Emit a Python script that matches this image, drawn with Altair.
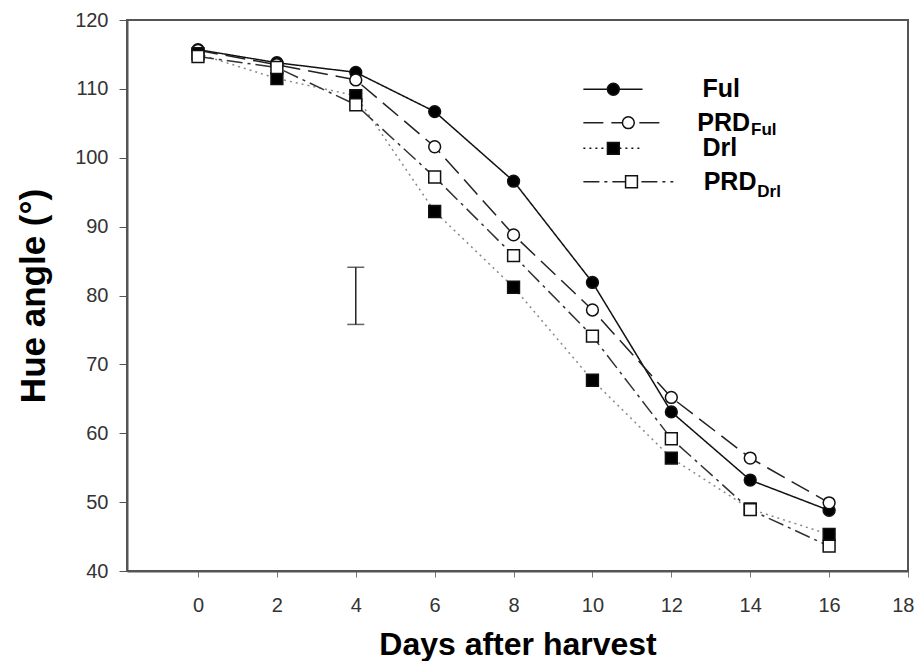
import altair as alt
import pandas as pd

# ---- data ----
days = [0, 2, 4, 6, 8, 10, 12, 14, 16]
ful = [115.7, 113.8, 112.4, 106.7, 96.6, 81.9, 63.1, 53.2, 48.8]
prd_ful = [115.6, 113.5, 111.3, 101.6, 88.8, 77.9, 65.2, 56.4, 49.9]
drl = [115.1, 111.5, 109.0, 92.2, 81.2, 67.7, 56.4, 49.0, 45.3]
prd_drl = [114.7, 113.1, 107.7, 97.2, 85.8, 74.1, 59.2, 48.9, 43.6]

series_names = ["Ful", "PRD_Ful", "Drl", "PRD_Drl"]
series_values = [ful, prd_ful, drl, prd_drl]

# LSD-style error bar
err_x = [4]
err_low = [75.8]
err_high = [84.1]

x_ticks = [0, 2, 4, 6, 8, 10, 12, 14, 16, 18]
y_ticks = [40, 50, 60, 70, 80, 90, 100, 110, 120]

# legend layout (in data units)
leg_y = [109.94, 105.09, 101.37, 96.52]
leg_x0 = [9.77, 9.77, 9.77, 9.77]
leg_x1 = [11.27, 11.83, 11.27, 12.05]
leg_xm = [10.53, 10.91, 10.53, 10.99]
leg_main = ["Ful", "PRD", "Drl", "PRD"]
leg_main_x = [12.79, 12.66, 12.79, 12.82]
leg_sub = ["", "Ful", "", "Drl"]
leg_sub_x = [14.02, 14.02, 14.02, 14.18]
leg_sub_dy = [0, -1.05, 0, -1.45]

rows = []
for name, vals in zip(series_names, series_values):
    for d, v in zip(days, vals):
        rows.append({"series": name, "day": d, "hue": v})
df = pd.DataFrame(rows)

leg_df = pd.DataFrame({
    "series": series_names, "y": leg_y, "x0": leg_x0, "x1": leg_x1, "xm": leg_xm,
    "label": leg_main, "lx": leg_main_x, "sub": leg_sub, "sx": leg_sub_x,
    "sy": [a + b for a, b in zip(leg_y, leg_sub_dy)],
})
err_df = pd.DataFrame({"day": err_x, "lo": err_low, "hi": err_high})

FONT = "Liberation Sans"

xscale = alt.Scale(domain=[-1.8, 18], nice=False, zero=False)
yscale = alt.Scale(domain=[40, 120], nice=False, zero=False)

x_axis = alt.Axis(values=x_ticks, title="Days after harvest", grid=False,
                  tickSize=6, labelPadding=18, labelFontSize=20, labelFont=FONT,
                  labelColor="#333", tickColor="#777", domainColor="#555", domainWidth=2,
                  titleFont=FONT, titleFontSize=32, titleFontWeight="bold", titleColor="#000",
                  titleBaseline="alphabetic", titleY=83, labelFlush=True, labelFlushOffset=6)
y_axis = alt.Axis(values=y_ticks, title="Hue angle (°)", grid=False,
                  tickSize=8, labelPadding=11, labelFontSize=20, labelFont=FONT,
                  labelColor="#333", tickColor="#555", domainColor="#555", domainWidth=2,
                  titleFont=FONT, titleFontSize=35, titleFontWeight="bold", titleColor="#000",
                  titleBaseline="alphabetic", titleAngle=270, titleX=-83, titleY=275.5,
                  titleAlign="center", labelFlush=False)

styles = {
    "Ful": dict(dash=[1, 0], color="#111", lcolor="#111", shape="circle", fill="#000", size=140),
    "PRD_Ful": dict(dash=[20, 8], color="#222", lcolor="#222", shape="circle", fill="#fff", size=140),
    "Drl": dict(dash=[2, 4], color="#888", lcolor="#111", shape="square", fill="#000", size=140),
    "PRD_Drl": dict(dash=[16, 5, 3, 5], color="#333", lcolor="#222", shape="square", fill="#fff", size=140),
}

base = alt.Chart(df)
layers = []
# axes carrier
layers.append(base.mark_point(opacity=0).encode(
    x=alt.X("day:Q", scale=xscale, axis=x_axis),
    y=alt.Y("hue:Q", scale=yscale, axis=y_axis)))

for name in series_names:
    s = styles[name]
    layers.append(base.transform_filter(alt.datum.series == name).mark_line(
        strokeDash=s["dash"], color=s["color"], strokeWidth=1.5).encode(
        x="day:Q", y="hue:Q"))
for name in series_names:
    s = styles[name]
    layers.append(base.transform_filter(alt.datum.series == name).mark_point(
        shape=s["shape"], filled=True, fill=s["fill"], stroke="#111", strokeWidth=1.5,
        size=s["size"], opacity=1).encode(x="day:Q", y="hue:Q"))

# error bar
eb = alt.Chart(err_df)
layers.append(eb.mark_rule(color="#222", strokeWidth=1.5).encode(x="day:Q", y="lo:Q", y2="hi:Q"))
layers.append(eb.mark_tick(orient="horizontal", size=17, thickness=1.5, color="#222").encode(x="day:Q", y="lo:Q"))
layers.append(eb.mark_tick(orient="horizontal", size=17, thickness=1.5, color="#222").encode(x="day:Q", y="hi:Q"))

# legend
lg = alt.Chart(leg_df)
for name in series_names:
    s = styles[name]
    layers.append(lg.transform_filter(alt.datum.series == name).mark_rule(
        strokeDash=s["dash"], color=s["lcolor"], strokeWidth=1.5).encode(
        x="x0:Q", x2="x1:Q", y="y:Q"))
    layers.append(lg.transform_filter(alt.datum.series == name).mark_point(
        shape=s["shape"], filled=True, fill=s["fill"], stroke="#111", strokeWidth=1.5,
        size=s["size"], opacity=1).encode(x="xm:Q", y="y:Q"))
layers.append(lg.mark_text(align="left", baseline="middle", font=FONT, fontSize=25,
                           fontWeight="bold", color="#000").encode(x="lx:Q", y="y:Q", text="label:N"))
layers.append(lg.mark_text(align="left", baseline="middle", font=FONT, fontSize=17,
                           fontWeight="bold", color="#000").encode(x="sx:Q", y="sy:Q", text="sub:N"))

chart = alt.layer(*layers).properties(
    width=781, height=551, autosize="none",
    padding={"left": 119, "top": 12, "right": 7, "bottom": 90},
).configure_view(stroke="#555", strokeWidth=2)

chart.save("out.html", embed_options={"renderer": "svg", "actions": False})
